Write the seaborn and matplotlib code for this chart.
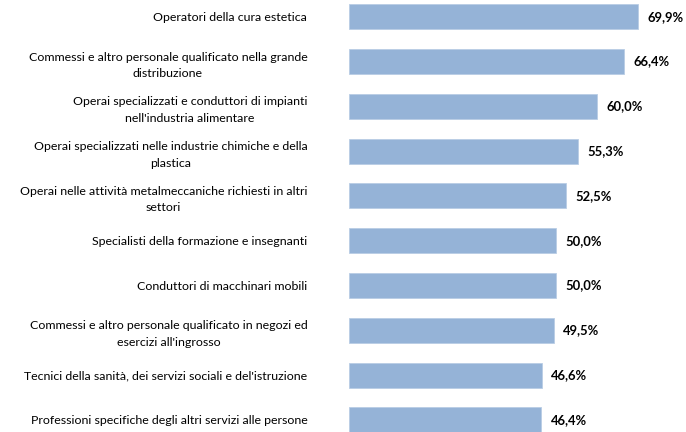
import pandas as pd
import matplotlib
matplotlib.use("Agg")
import matplotlib.pyplot as plt
import seaborn as sns

# Data
categories = [
    "Operatori della cura estetica",
    "Commessi e altro personale qualificato nella grande\ndistribuzione",
    "Operai specializzati e conduttori di impianti\nnell'industria alimentare",
    "Operai specializzati nelle industrie chimiche e della\nplastica",
    "Operai nelle attività metalmeccaniche richiesti in altri\nsettori",
    "Specialisti della formazione e insegnanti",
    "Conduttori di macchinari mobili",
    "Commessi e altro personale qualificato in negozi ed\nesercizi all'ingrosso",
    "Tecnici della sanità, dei servizi sociali e del'istruzione",
    "Professioni specifiche degli altri servizi alle persone",
]
values = [69.9, 66.4, 60.0, 55.3, 52.5, 50.0, 50.0, 49.5, 46.6, 46.4]

df = pd.DataFrame({"categoria": categories, "valore": values})

sns.set_style("white")
plt.rcParams["font.family"] = ["Lato", "DejaVu Sans"]

fig = plt.figure(figsize=(6.86, 4.32), dpi=100)
ax = fig.add_axes([349 / 686, 0, 337 / 686, 1])

sns.barplot(data=df, x="valore", y="categoria", orient="h", color="#95B3D7",
            saturation=1, width=0.56, edgecolor="#B9CDE5", linewidth=0.6, ax=ax)

ax.set_xlim(0, 337 / 4.14)
ax.set_ylim(9.27, -0.373)
ax.set_xlabel("")
ax.set_ylabel("")
ax.set_xticks([])
sns.despine(ax=ax, left=True, bottom=True)

ax.tick_params(axis="y", length=0, pad=30, labelsize=8.9, labelcolor="black")
for lbl in ax.get_yticklabels():
    lbl.set_multialignment("center")
    lbl.set_linespacing(1.6)

labels = [f"{v:.1f}%".replace(".", ",") for v in values]
ax.bar_label(ax.containers[0], labels=labels, padding=6.8,
             fontsize=9.4, fontweight="bold", color="black")

fig.savefig("out.png", dpi=100)
